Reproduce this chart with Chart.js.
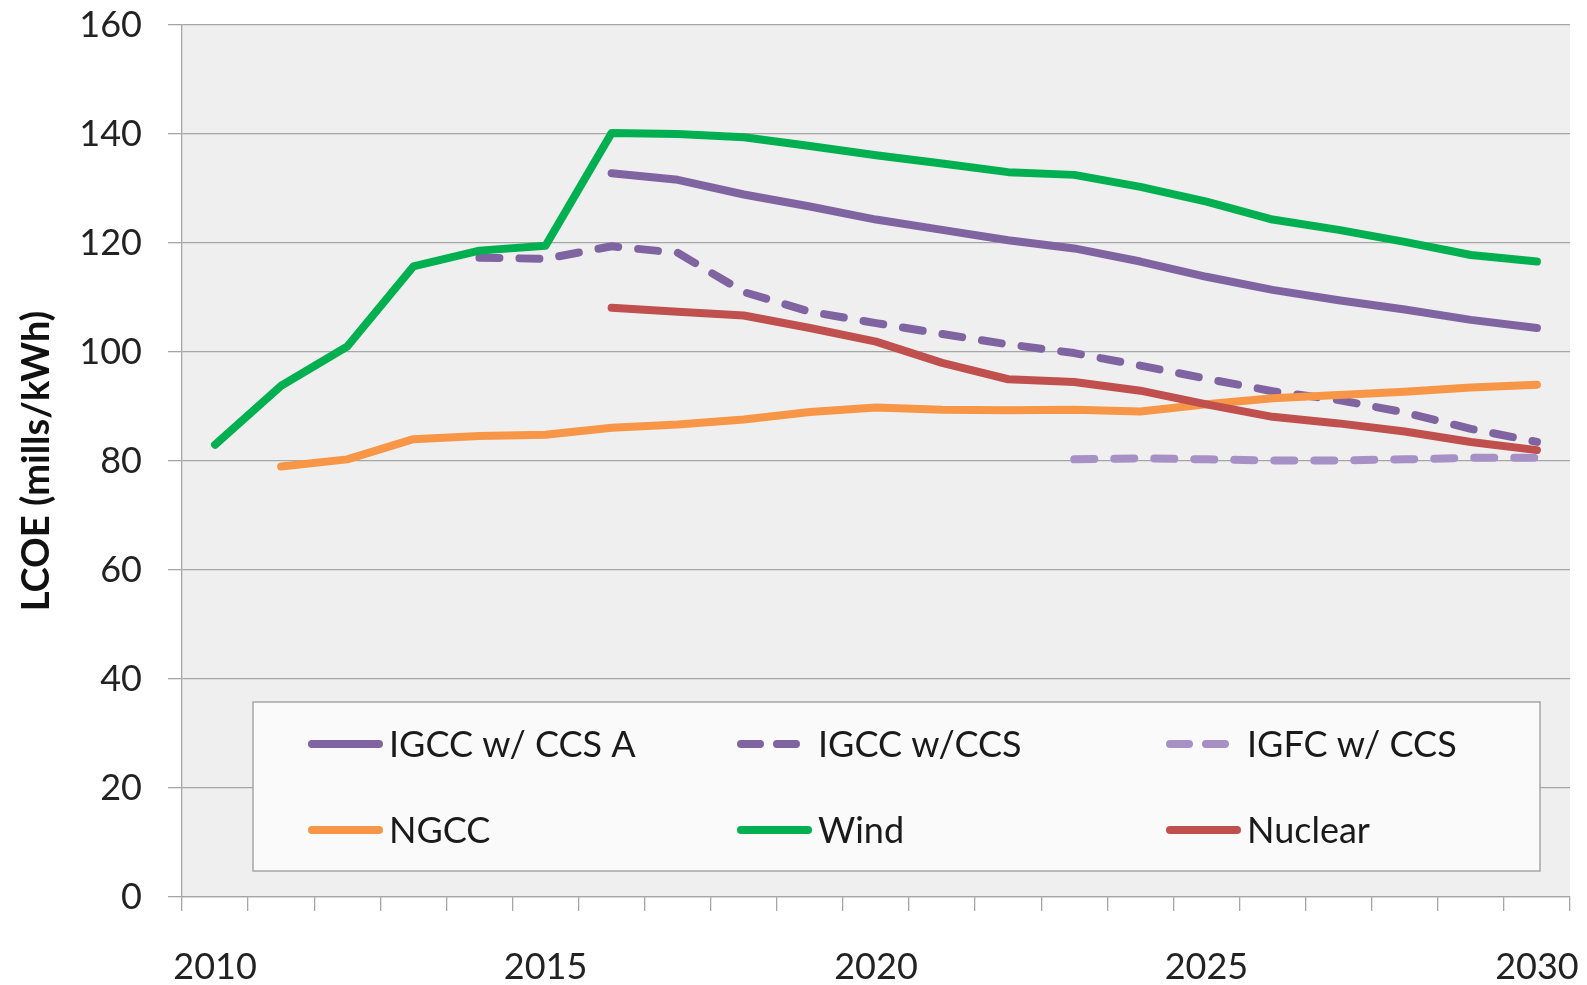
<!DOCTYPE html>
<html><head><meta charset="utf-8">
<script src="https://cdn.jsdelivr.net/npm/chart.js@4.4.1/dist/chart.umd.min.js"></script>
<style>html,body{margin:0;padding:0;background:#fff;}canvas{display:block;}</style>
</head><body>
<canvas id="c" width="1587" height="985"></canvas>
<script>
const years = ['2010','2011','2012','2013','2014','2015','2016','2017','2018','2019','2020','2021','2022','2023','2024','2025','2026','2027','2028','2029','2030'];
const tickYears = ['2010','2015','2020','2025','2030'];
const igccA   = [null,null,null,null,null,null,132.8,131.6,128.9,126.7,124.3,122.4,120.5,119.0,116.6,113.8,111.4,109.5,107.8,105.9,104.4];
const igccCcs = [null,null,null,null,117.3,117.1,119.4,118.2,111.0,107.4,105.3,103.3,101.4,99.8,97.5,95.1,92.8,91.2,88.9,85.9,83.5];
const igfcCcs = [null,null,null,null,null,null,null,null,null,null,null,null,null,80.3,80.5,80.3,80.1,80.1,80.3,80.6,80.6];
const ngcc    = [null,79.0,80.3,84.0,84.6,84.8,86.1,86.7,87.6,89.0,89.8,89.4,89.3,89.4,89.1,90.4,91.5,92.1,92.7,93.5,94.0];
const wind    = [83.0,93.8,101.0,115.7,118.6,119.5,140.2,140.0,139.4,137.8,136.1,134.6,133.0,132.5,130.3,127.6,124.3,122.4,120.2,117.8,116.6];
const nuclear = [null,null,null,null,null,null,108.1,107.4,106.7,104.4,101.9,98.0,95.0,94.5,92.9,90.4,88.1,86.9,85.4,83.5,82.0];

const seriesNames = ['IGCC w/ CCS A','IGCC w/CCS','IGFC w/ CCS','NGCC','Wind','Nuclear'];
const seriesData = [igccA, igccCcs, igfcCcs, ngcc, wind, nuclear];
const seriesColors = ['#8064a2','#8064a2','#a690c6','#f79646','#00b050','#c0504d'];
const dash = [20,20];
const seriesDash = [[], dash, dash, [], [], []];

const FONT = 'Lato, "Noto Sans", sans-serif';
const LW = 8;

const datasets = seriesNames.map((n,i)=>({
  label:n, data:seriesData[i], borderColor:seriesColors[i], backgroundColor:seriesColors[i],
  borderWidth:LW, borderDash:seriesDash[i], borderCapStyle:'round', borderJoinStyle:'round',
  pointRadius:0, pointHoverRadius:0, tension:0, spanGaps:false, fill:false, order:seriesNames.length-1-i
}));

const bgPlugin = {id:'bg', beforeDraw(chart){
  const {ctx, chartArea:a} = chart;
  ctx.save(); ctx.fillStyle='#efefef'; ctx.fillRect(a.left,a.top,a.right-a.left,a.bottom-a.top); ctx.restore();
}};

const boxLegend = {id:'boxLegend', beforeDatasetsDraw(chart){
  const {ctx, chartArea:a} = chart;
  const L = a.left + 71, R = a.right - 30, T = 702, B = 871;
  ctx.save();
  ctx.fillStyle = '#fafafa'; ctx.fillRect(L,T,R-L,B-T);
  ctx.strokeStyle = '#a6a6a6'; ctx.lineWidth = 1.5; ctx.strokeRect(L,T,R-L,B-T);
  chart.data.datasets.forEach((ds,i)=>{
    const x = L + 55 + (i%3)*429;
    const y = i < 3 ? T + 42 : T + 128;
    ctx.strokeStyle = ds.borderColor; ctx.lineWidth = LW; ctx.lineCap = 'round';
    ctx.setLineDash(ds.borderDash && ds.borderDash.length ? [19,17] : []);
    ctx.beginPath(); ctx.moveTo(x+4,y); ctx.lineTo(x+71,y); ctx.stroke();
    ctx.setLineDash([]);
    ctx.fillStyle = '#1a1a1a'; ctx.font = '36px ' + FONT; ctx.textBaseline = 'alphabetic'; ctx.textAlign='left';
    ctx.fillText(ds.label, x + 81, y + 13);
  });
  ctx.restore();
}};

new Chart(document.getElementById('c'), {
  type:'line',
  data:{labels:years, datasets},
  plugins:[bgPlugin, boxLegend],
  options:{
    responsive:false, animation:false, devicePixelRatio:1,
    layout:{padding:{left:0, right:17, top:25, bottom:0}},
    plugins:{legend:{display:false}, tooltip:{enabled:false}},
    scales:{
      x:{type:'category', offset:true,
        grid:{offset:true, drawOnChartArea:false, drawTicks:true, tickLength:14, color:'#a6a6a6', lineWidth:1.3},
        border:{display:true, color:'#a6a6a6', width:1.3},
        ticks:{autoSkip:false, maxRotation:0, minRotation:0, padding:35, color:'#222', font:{family:FONT, size:36},
          callback(v){ const l = this.getLabelForValue(v); return tickYears.includes(l) ? l : ''; }},
        afterFit(s){ s.height = 88; s.paddingLeft = 0; s.paddingRight = 0; }
      },
      y:{min:0, max:160,
        ticks:{stepSize:20, padding:26, color:'#222', font:{family:FONT, size:36}},
        grid:{color:'#a6a6a6', lineWidth:1.3, tickLength:14, drawTicks:true},
        border:{display:true, color:'#a6a6a6', width:1.3},
        title:{display:true, text:'LCOE (mills/kWh)', color:'#111', font:{family:FONT, size:38, weight:'bold'}, padding:{top:14, bottom:0}},
        afterFit(s){ s.width = 182; s.paddingTop = 0; s.paddingBottom = 0; }
      }
    }
  }
});
</script>
</body></html>
